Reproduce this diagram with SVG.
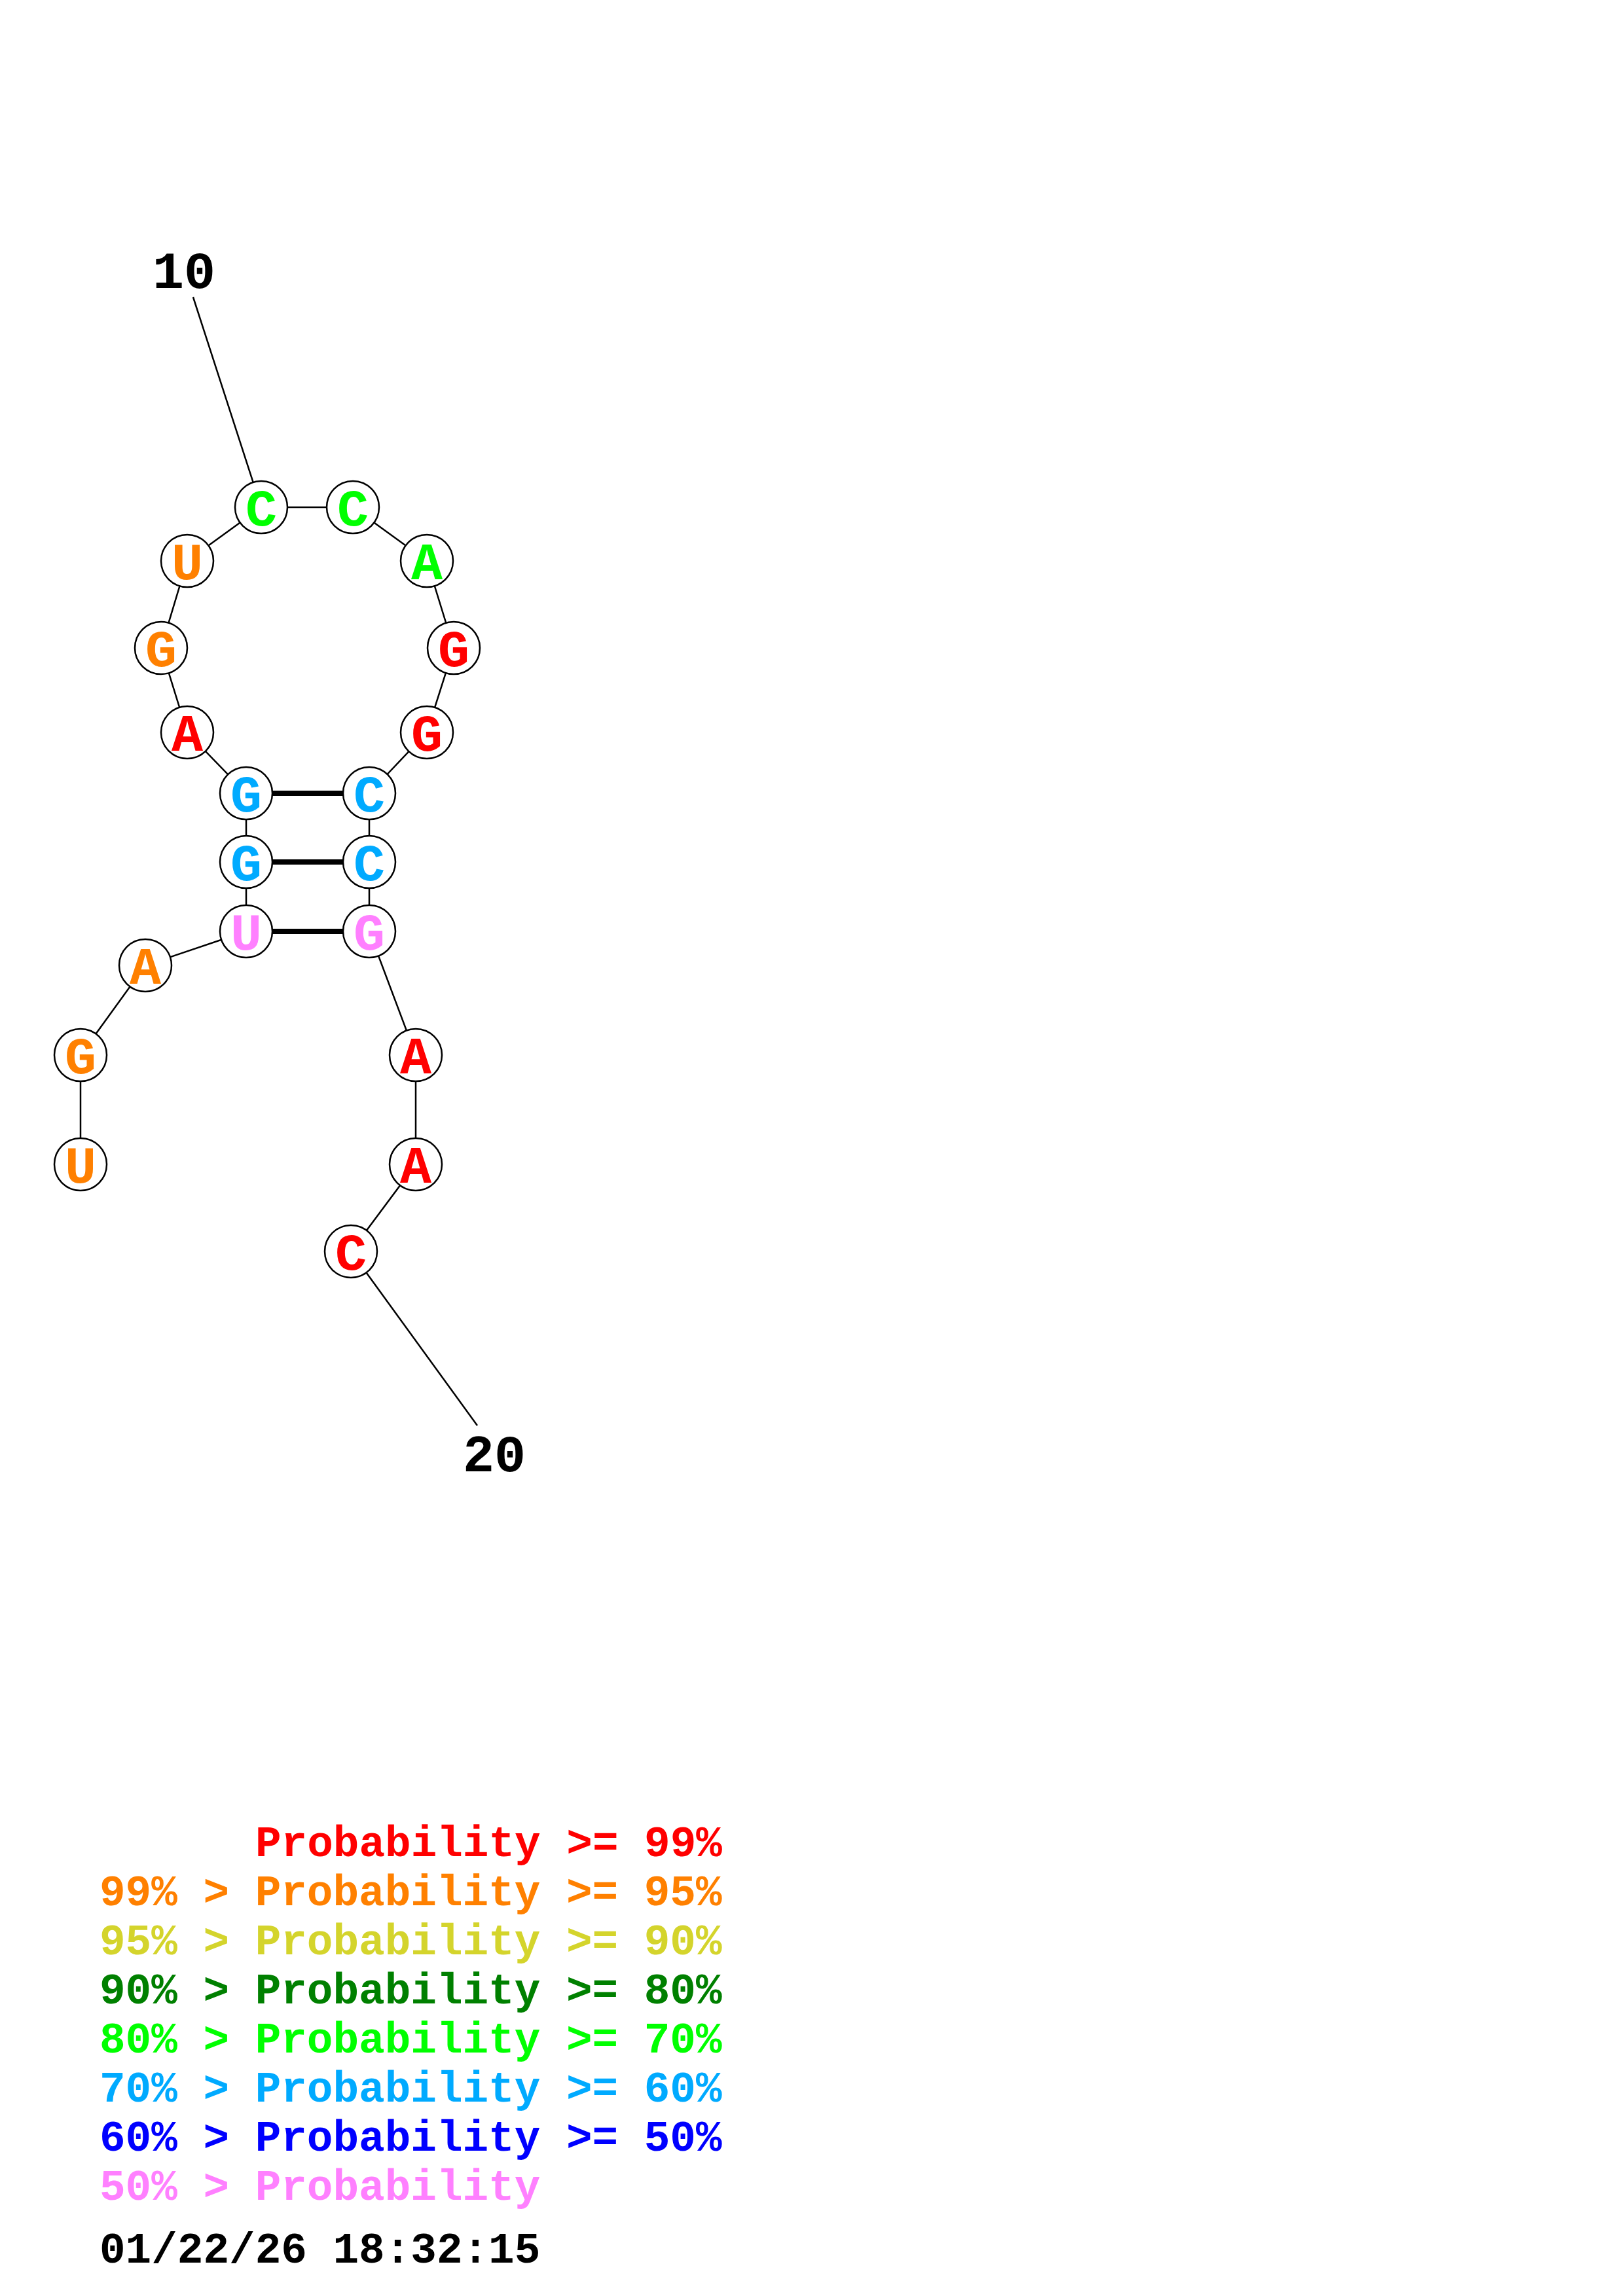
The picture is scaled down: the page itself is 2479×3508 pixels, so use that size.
<svg xmlns="http://www.w3.org/2000/svg" width="2479" height="3508" viewBox="0 0 2479 3508">
<style>
.bb{stroke:#000;stroke-width:2.5;fill:none}
.pr{stroke:#000;stroke-width:8;fill:none}
.nd{fill:#fff;stroke:#000;stroke-width:2.5}
.lt{font-family:"Courier New","Liberation Mono",monospace;font-weight:bold;font-size:80px;text-anchor:middle}
.num{font-family:"Courier New","Liberation Mono",monospace;font-weight:bold;font-size:80px;text-anchor:middle;fill:#000}
.lg{font-family:"Courier New","Liberation Mono",monospace;font-weight:bold;font-size:66px}
.r{fill:#FF0000}.o{fill:#FF8000}.y{fill:#D4D42C}.dg{fill:#008000}.g{fill:#00FF00}.s{fill:#00AAFF}.b{fill:#0000FF}.p{fill:#FF80FF}.k{fill:#000}
</style>
<rect width="2479" height="3508" fill="#fff"/>
<g id="connectors">
<line class="bb" x1="295" y1="454" x2="399" y2="775"/>
<line class="bb" x1="729" y1="2178" x2="536" y2="1912"/>
<polyline class="bb" points="123,1779 123,1612 222,1475 376,1423 376,1317 376,1212 286,1119 246,990 286,857 399,775 539,775 652,857 693,990 652,1119 564,1212 564,1317 564,1423 635,1612 635,1779 536,1912"/>
<line class="pr" x1="376" y1="1212" x2="564" y2="1212"/>
<line class="pr" x1="376" y1="1317" x2="564" y2="1317"/>
<line class="pr" x1="376" y1="1423" x2="564" y2="1423"/>
</g>
<g id="n1"><circle class="nd" cx="123" cy="1779" r="40"/><text class="lt o" x="123" y="1807">U</text></g>
<g id="n2"><circle class="nd" cx="123" cy="1612" r="40"/><text class="lt o" x="123" y="1640">G</text></g>
<g id="n3"><circle class="nd" cx="222" cy="1475" r="40"/><text class="lt o" x="222" y="1503">A</text></g>
<g id="n4"><circle class="nd" cx="376" cy="1423" r="40"/><text class="lt p" x="376" y="1451">U</text></g>
<g id="n5"><circle class="nd" cx="376" cy="1317" r="40"/><text class="lt s" x="376" y="1345">G</text></g>
<g id="n6"><circle class="nd" cx="376" cy="1212" r="40"/><text class="lt s" x="376" y="1240">G</text></g>
<g id="n7"><circle class="nd" cx="286" cy="1119" r="40"/><text class="lt r" x="286" y="1147">A</text></g>
<g id="n8"><circle class="nd" cx="246" cy="990" r="40"/><text class="lt o" x="246" y="1018">G</text></g>
<g id="n9"><circle class="nd" cx="286" cy="857" r="40"/><text class="lt o" x="286" y="885">U</text></g>
<g id="n10"><circle class="nd" cx="399" cy="775" r="40"/><text class="lt g" x="399" y="803">C</text></g>
<g id="n11"><circle class="nd" cx="539" cy="775" r="40"/><text class="lt g" x="539" y="803">C</text></g>
<g id="n12"><circle class="nd" cx="652" cy="857" r="40"/><text class="lt g" x="652" y="885">A</text></g>
<g id="n13"><circle class="nd" cx="693" cy="990" r="40"/><text class="lt r" x="693" y="1018">G</text></g>
<g id="n14"><circle class="nd" cx="652" cy="1119" r="40"/><text class="lt r" x="652" y="1147">G</text></g>
<g id="n15"><circle class="nd" cx="564" cy="1212" r="40"/><text class="lt s" x="564" y="1240">C</text></g>
<g id="n16"><circle class="nd" cx="564" cy="1317" r="40"/><text class="lt s" x="564" y="1345">C</text></g>
<g id="n17"><circle class="nd" cx="564" cy="1423" r="40"/><text class="lt p" x="564" y="1451">G</text></g>
<g id="n18"><circle class="nd" cx="635" cy="1612" r="40"/><text class="lt r" x="635" y="1640">A</text></g>
<g id="n19"><circle class="nd" cx="635" cy="1779" r="40"/><text class="lt r" x="635" y="1807">A</text></g>
<g id="n20"><circle class="nd" cx="536" cy="1912" r="40"/><text class="lt r" x="536" y="1940">C</text></g>
<g id="labels">
<text class="num" x="281" y="440">10</text>
<text class="num" x="755" y="2248">20</text>
</g>
<g id="legend">
<text class="lg r" x="390" y="2836">Probability &gt;= 99%</text>
<text class="lg o" x="152" y="2911">99% &gt; Probability &gt;= 95%</text>
<text class="lg y" x="152" y="2986">95% &gt; Probability &gt;= 90%</text>
<text class="lg dg" x="152" y="3061">90% &gt; Probability &gt;= 80%</text>
<text class="lg g" x="152" y="3136">80% &gt; Probability &gt;= 70%</text>
<text class="lg s" x="152" y="3211">70% &gt; Probability &gt;= 60%</text>
<text class="lg b" x="152" y="3286">60% &gt; Probability &gt;= 50%</text>
<text class="lg p" x="152" y="3361">50% &gt; Probability</text>
<text class="lg k" x="152" y="3457">01/22/26 18:32:15</text>
</g>
</svg>
